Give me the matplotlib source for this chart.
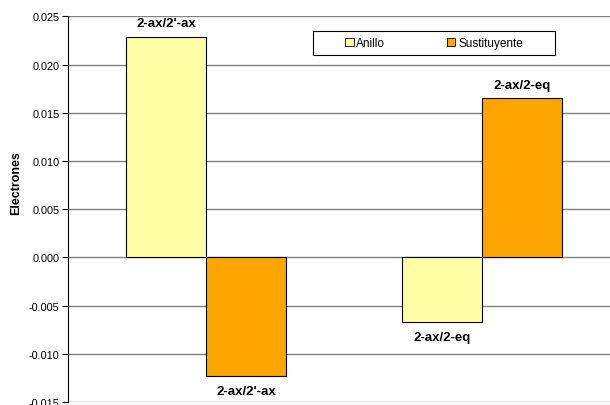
import numpy as np
import matplotlib
matplotlib.use("Agg")
import matplotlib.pyplot as plt
from matplotlib.patches import Rectangle

plt.rcParams['font.family'] = ['Liberation Sans', 'DejaVu Sans']

# data
groups = ["2-ax/2'-ax", "2-ax/2-eq"]
series = ["Anillo", "Sustituyente"]
anillo = [0.0229, -0.0067]
sustituyente = [-0.0123, 0.0165]
yticks = [-0.015, -0.010, -0.005, 0.000, 0.005, 0.010, 0.015, 0.020, 0.025]

colors = ['#FFFFA6', '#FFA500']

fig = plt.figure(figsize=(6.10, 4.06), dpi=100)
# plot area runs a little past the right edge, like the original
ax = fig.add_axes([0.1115, 0.0074, 0.905, 0.950])

x = np.arange(len(groups))
w = 0.29
for i, (vals, name) in enumerate(zip([anillo, sustituyente], series)):
    pos = x + (i - 0.5) * w
    ax.bar(pos, vals, width=w, color=colors[i], edgecolor='black', linewidth=0.8,
           label=name, zorder=3)
    for p, v in zip(pos, vals):
        off = 0.0008 if v > 0 else -0.0009
        ax.text(p, v + off, groups[int(round(p))], ha='center',
                va='bottom' if v > 0 else 'top', fontsize=9.5, fontweight='bold', zorder=4)

ax.set_xlim(-0.5, 1.5)
ax.set_ylim(-0.015, 0.025)
ax.set_yticks(yticks)
ax.set_yticklabels([f"{t:.3f}" for t in yticks], fontsize=7.8)
ax.set_xticks([])
ax.grid(axis='y', color='#808080', linewidth=1, zorder=0)
for s in ['top', 'right', 'bottom']:
    ax.spines[s].set_visible(False)
ax.spines['left'].set_linewidth(0.8)
ax.tick_params(axis='y', length=4, width=0.8, pad=2)
ax.set_ylabel('Electrones', fontsize=9, fontweight='bold')
ax.yaxis.set_label_coords(-0.083, 0.57)

# legend box
bx, by, bw, bh = 0.4438, 0.899, 0.4384, 0.062
box = Rectangle((bx, by), bw, bh, transform=ax.transAxes,
                facecolor='white', edgecolor='black', linewidth=0.8, zorder=5)
ax.add_patch(box)
leg = ax.legend(loc='center', bbox_to_anchor=(bx + bw / 2, by + bh / 2),
                ncol=2, fontsize=8.5, frameon=False,
                handlelength=0.7, handleheight=0.7, handletextpad=0.25,
                columnspacing=5.2, borderpad=0, borderaxespad=0)
leg.set_zorder(6)
for h in leg.legend_handles:
    h.set_linewidth(0.6)

fig.savefig('out.png', dpi=100)
